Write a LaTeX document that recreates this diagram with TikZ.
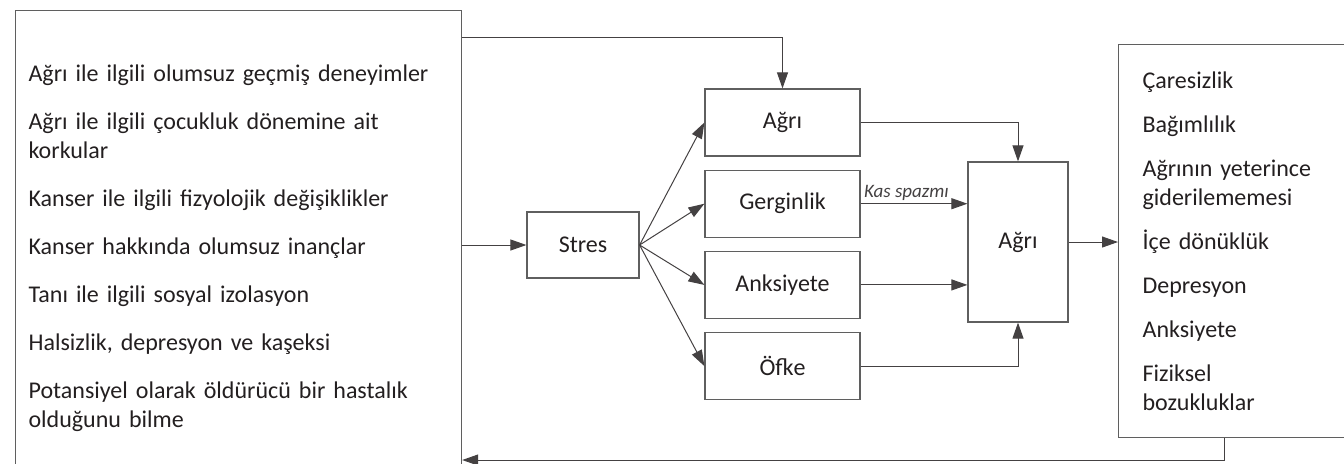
\documentclass[tikz,border=0pt]{standalone}
\usepackage{fontspec}
\setmainfont{Carlito}
\usepackage{tikz}
\usetikzlibrary{arrows.meta, positioning}
\definecolor{LineGray}{RGB}{95,95,95}
\definecolor{TextBlack}{RGB}{35,31,32}

\begin{document}
\begin{tikzpicture}[
  x=0.5pt, y=-0.5pt,
  font=\fontsize{12}{14.5}\selectfont, text=TextBlack,
  box/.style={draw=LineGray, line width=0.6pt, minimum width=77.5pt,
              minimum height=33.5pt, inner sep=0pt},
  list/.style={draw=LineGray, line width=0.6pt, align=left, inner ysep=0pt,
               anchor=north west},
  arr/.style={-{Triangle[length=8pt, width=5.5pt]}, TextBlack!85, line width=0.5pt}
]
  \useasboundingbox (0,0) rectangle (1344,463);
  \node[list, text width=210pt, inner xsep=6.5pt, minimum height=237.5pt] (causes) at (15,10)
    {Ağrı ile ilgili olumsuz geçmiş deneyimler\\[9.5pt]
     Ağrı ile ilgili çocukluk dönemine ait\\ korkular\\[9.5pt]
     Kanser ile ilgili fizyolojik değişiklikler\\[9.5pt]
     Kanser hakkında olumsuz inançlar\\[9.5pt]
     Tanı ile ilgili sosyal izolasyon\\[9.5pt]
     Halsizlik, depresyon ve kaşeksi\\[9.5pt]
     Potansiyel olarak öldürücü bir hastalık\\ olduğunu bilme};
  \node[list, text width=107pt, inner xsep=12pt, minimum height=196.5pt] (sonuc) at (1118,44)
    {Çaresizlik\\[7.5pt]
     Bağımlılık\\[7.5pt]
     Ağrının yeterince\\ giderilememesi\\[7.5pt]
     İçe dönüklük\\[7.5pt]
     Depresyon\\[7.5pt]
     Anksiyete\\[7.5pt]
     Fiziksel\\ bozukluklar};

  \node[box, minimum width=56pt, minimum height=33pt] (stres) at (583,245) {Stres};
  \node[box] (agri) at (782.5,122.5) {Ağrı};
  \node[box, below=6.5pt of agri] (gerg) {Gerginlik};
  \node[box, below=6.5pt of gerg] (anks) {Anksiyete};
  \node[box, below=6.5pt of anks] (ofke) {Öfke};
  \node[box, minimum width=50pt, minimum height=80pt] (agri2) at (1018,242) {Ağrı};

  \coordinate (top) at (0,37);
  \coordinate (fb) at (1224,460);

  \draw[arr] (causes.east |- stres) -- (stres.west);
  \draw[arr] (causes.east |- top) -| (agri.north);
  \foreach \n in {agri, gerg, anks, ofke}
    \draw[arr] (stres.east) -- (\n.west);
  \draw[arr] (agri.east) -| (agri2.north);
  \draw[arr] (gerg.east) -- node[pos=0, anchor=south west, inner sep=1.5pt,
      font=\fontsize{9.5}{11}\selectfont\itshape] (kas) {Kas spazmı} (gerg.east -| agri2.west);
  \draw[arr] (anks.east) -- (anks.east -| agri2.west);
  \draw[arr] (ofke.east) -| (agri2.south);
  \draw[arr] (agri2.east) -- (agri2.east -| sonuc.west);
  \draw[arr] (fb |- sonuc.south) -- (fb) -- (fb -| causes.east);
\end{tikzpicture}
\end{document}
